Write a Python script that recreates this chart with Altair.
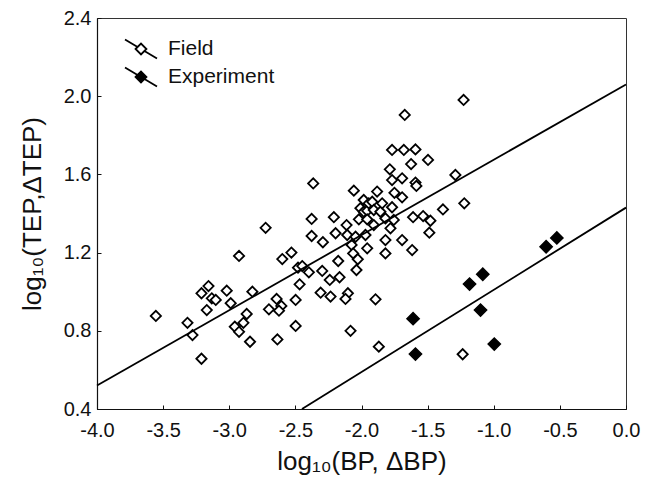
import altair as alt
import pandas as pd

FONT = "Liberation Sans"

# Field observations (open diamonds)
field_x = [-3.555, -3.316, -3.278, -3.21, -3.21, -3.157, -3.132, -3.102, -3.17, -3.019,
           -2.989, -2.958, -2.926, -2.893, -2.926, -2.868, -2.843, -2.825, -2.725, -2.70,
           -2.642, -2.606, -2.624, -2.636, -2.599, -2.53, -2.498, -2.498, -2.48, -2.448,
           -2.468, -2.398, -2.377, -2.377, -2.365, -2.309, -2.297, -2.292, -2.24, -2.234,
           -2.209, -2.196, -2.176, -2.166, -2.113, -2.108, -2.103, -2.121, -2.083, -2.075,
           -2.063, -2.058, -2.045, -2.038, -2.028, -2.02, -2.008, -1.983, -1.983, -1.97,
           -1.957, -1.957, -1.957, -1.945, -1.919, -1.907, -1.907, -1.894, -1.882, -1.869,
           -1.857, -1.844, -1.819, -1.819, -1.819, -1.786, -1.781, -1.769, -1.769, -1.769,
           -1.756, -1.751, -1.693, -1.693, -1.693, -1.68, -1.673, -1.625, -1.617, -1.61,
           -1.592, -1.592, -1.585, -1.534, -1.497, -1.487, -1.479, -1.384, -1.29, -1.235,
           -1.228, -1.223]
field_y = [0.876, 0.841, 0.778, 0.657, 0.992, 1.029, 0.966, 0.958, 0.906, 1.005,
           0.941, 0.821, 0.795, 0.841, 1.183, 0.886, 0.744, 1.0, 1.327, 0.91,
           0.963, 0.927, 0.903, 0.756, 1.167, 1.2, 0.958, 0.825, 1.123, 1.131,
           1.038, 1.099, 1.372, 1.285, 1.554, 0.995, 1.106, 1.253, 1.06, 0.975,
           1.381, 1.299, 1.157, 1.074, 1.341, 1.29, 0.992, 0.963, 0.80, 1.239,
           1.196, 1.517, 1.281, 1.111, 1.166, 1.37, 1.427, 1.469, 1.409, 1.29,
           1.414, 1.37, 1.222, 1.452, 1.46, 1.418, 1.341, 0.961, 1.512, 0.719,
           1.409, 1.452, 1.375, 1.264, 1.196, 1.626, 1.324, 1.725, 1.571, 1.432,
           1.367, 1.506, 1.58, 1.483, 1.264, 1.725, 1.904, 1.653, 1.213, 1.381,
           1.728, 1.558, 1.541, 1.387, 1.674, 1.302, 1.363, 1.421, 1.597, 0.68,
           1.981, 1.452]

# Experiment (filled diamonds)
exp_x = [-1.61, -1.592, -1.183, -1.083, -1.10, -0.996, -0.604, -0.523]
exp_y = [0.862, 0.681, 1.039, 1.089, 0.906, 0.732, 1.23, 1.275]

# Fitted lines (end points)
upper_fit_x = [-4.0, 0.0]
upper_fit_y = [0.52, 2.06]
lower_fit_x = [-2.45, 0.0]
lower_fit_y = [0.40, 1.43]

x_ticks = [-4.0, -3.5, -3.0, -2.5, -2.0, -1.5, -1.0, -0.5, 0.0]
y_ticks = [0.4, 0.8, 1.2, 1.6, 2.0, 2.4]
series_names = ["Field", "Experiment"]

W, H = 529, 391

field_df = pd.DataFrame({"x": field_x, "y": field_y, "kind": "Field"})
exp_df = pd.DataFrame({"x": exp_x, "y": exp_y, "kind": "Experiment"})
fit_df = pd.DataFrame({
    "x": upper_fit_x + lower_fit_x,
    "y": upper_fit_y + lower_fit_y,
    "fit": ["upper"] * len(upper_fit_x) + ["lower"] * len(lower_fit_x),
})

xscale = alt.Scale(domain=[-4.0, 0.0], nice=False, zero=False)
yscale = alt.Scale(domain=[0.4, 2.4], nice=False, zero=False)

neg_fmt = "(datum.value < 0 ? '-' : '') + format(abs(datum.value), '.1f')"

main_x_axis = alt.Axis(values=x_ticks, labelExpr=neg_fmt, title="log₁₀(BP, ΔBP)",
                       orient="bottom", tickSize=0, labelPadding=11, titlePadding=8,
                       grid=False, domainColor="#111", domainWidth=1.2,
                       labelFont=FONT, labelFontSize=20, labelColor="#111",
                       titleFont=FONT, titleFontSize=26, titleFontWeight="normal",
                       titleColor="#111", labelFlush=False, labelOverlap=False)
main_y_axis = alt.Axis(values=y_ticks, format=".1f", title="log₁₀(TEP,ΔTEP)",
                       orient="left", tickSize=0, labelPadding=6, titlePadding=18,
                       grid=False, domainColor="#111", domainWidth=1.2,
                       labelFont=FONT, labelFontSize=20, labelColor="#111",
                       titleFont=FONT, titleFontSize=26, titleFontWeight="normal",
                       titleColor="#111", labelFlush=False, labelOverlap=False)

tick_x_axis = alt.Axis(values=x_ticks, orient="top", offset=-H, labels=False, domain=False,
                       ticks=True, tickSize=4, tickColor="#111", tickWidth=1, grid=False, title=None)
tick_y_axis = alt.Axis(values=y_ticks, orient="right", offset=-W, labels=False, domain=False,
                       ticks=True, tickSize=4, tickColor="#111", tickWidth=1, grid=False, title=None)

# legend glyph: slanted line broken by a diamond (drawn beyond the unit box)
legend_path = ("M-1.6,-0.944L-0.342,-0.202M0.342,0.202L1.6,0.944"
               "M-0.544,0L0,-0.544L0.544,0L0,0.544Z")

fill_enc = alt.Fill(
    "kind:N",
    scale=alt.Scale(domain=series_names, range=["white", "black"]),
    legend=alt.Legend(title=None, orient="none", legendX=33, legendY=20,
                      symbolType=legend_path, symbolSize=400,
                      symbolStrokeColor="black", symbolStrokeWidth=1.8,
                      symbolOpacity=1, labelFont=FONT, labelFontSize=21,
                      labelColor="#111", labelOffset=16, rowPadding=0, padding=0),
)

field_layer = alt.Chart(field_df).mark_point(
    shape="diamond", filled=True, stroke="black", strokeWidth=1.8, size=105, opacity=1
).encode(
    x=alt.X("x:Q", scale=xscale, axis=main_x_axis),
    y=alt.Y("y:Q", scale=yscale, axis=main_y_axis),
    fill=fill_enc,
)

exp_layer = alt.Chart(exp_df).mark_point(
    shape="diamond", filled=True, stroke="black", strokeWidth=1.5, size=150, opacity=1
).encode(
    x=alt.X("x:Q", scale=xscale, axis=None),
    y=alt.Y("y:Q", scale=yscale, axis=None),
    fill=fill_enc,
)

fit_layer = alt.Chart(fit_df).mark_line(color="black", strokeWidth=1.8).encode(
    x=alt.X("x:Q", scale=xscale, axis=tick_x_axis),
    y=alt.Y("y:Q", scale=yscale, axis=tick_y_axis),
    detail="fit:N",
)

chart = alt.layer(field_layer, exp_layer, fit_layer).resolve_axis(
    x="independent", y="independent"
).properties(
    width=W, height=H,
    autosize=alt.AutoSizeParams(type="none"),
    padding={"left": 89, "top": 10, "right": 22, "bottom": 72},
    background="white",
).configure_view(stroke="#333", strokeWidth=1)

chart.save("out.html", embed_options={"renderer": "svg", "actions": False})
